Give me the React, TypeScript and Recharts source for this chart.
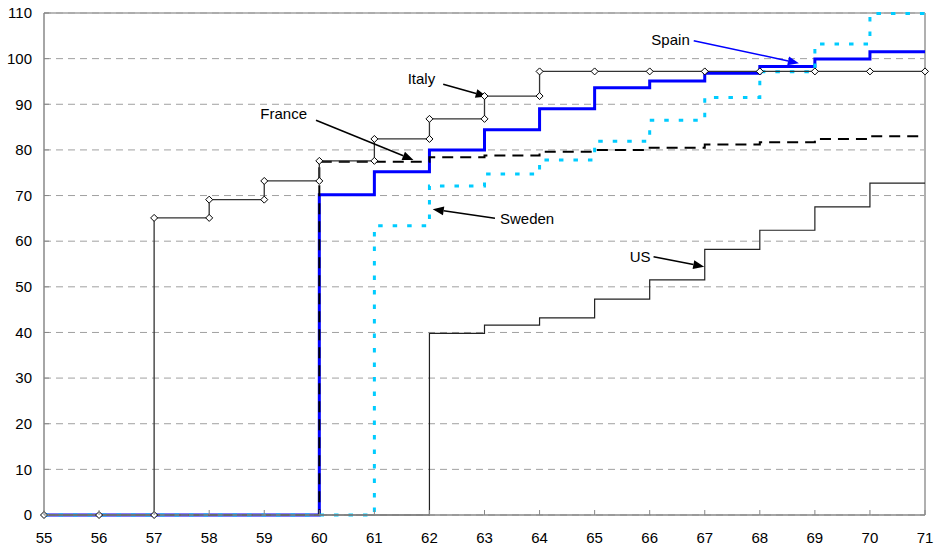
import { LineChart, Line, XAxis, YAxis, CartesianGrid, ReferenceLine } from 'recharts'

// ages on the x axis, one level per age (level holds until the next age)
const AGES = [55, 56, 57, 58, 59, 60, 61, 62, 63, 64, 65, 66, 67, 68, 69, 70, 71]
const Y_TICKS = [0, 10, 20, 30, 40, 50, 60, 70, 80, 90, 100, 110]

const ITALY = [0, 0, 65.1, 69.1, 73.2, 77.6, 82.4, 86.8, 91.8, 97.2, 97.2, 97.2, 97.2, 97.2, 97.2, 97.2, 97.2]
const SPAIN = [0, 0, 0, 0, 0, 70.2, 75.2, 80.0, 84.4, 89.0, 93.6, 95.1, 96.8, 98.3, 99.9, 101.5, 101.5]
const FRANCE = [0, 0, 0, 0, 0, 77.4, 77.4, 78.4, 78.8, 79.6, 80.0, 80.5, 81.2, 81.7, 82.4, 83.0, 83.0]
const SWEDEN = [0, 0, 0, 0, 0, 0, 63.4, 72.1, 74.7, 77.8, 81.9, 86.5, 91.5, 97.1, 103.2, 109.9, 109.9]
const US = [0, 0, 0, 0, 0, 0, 0, 39.8, 41.6, 43.2, 47.3, 51.5, 58.2, 62.4, 67.5, 72.7, 72.7]

// callouts: arrow from -> to, in data units
const ARROWS = [
  { label: 'Spain', from: [66.8, 103.9], to: [68.71, 99.0], color: '#0000ff', anchor: 'end', dx: -4, dy: -1 },
  { label: 'Italy', from: [62.25, 94.4], to: [63.04, 91.7], color: '#000', anchor: 'end', dx: -8, dy: -5 },
  { label: 'France', from: [59.94, 86.5], to: [61.71, 77.8], color: '#000', anchor: 'end', dx: -9, dy: -7 },
  { label: 'Sweden', from: [63.19, 65.0], to: [62.06, 67.0], color: '#000', anchor: 'start', dx: 5, dy: 0 },
  { label: 'US', from: [66.07, 56.6], to: [66.99, 54.4], color: '#000', anchor: 'end', dx: -3, dy: 0 },
]

const FONT = '"Liberation Sans", Arial, sans-serif'

function stepPoints(levels: number[]) {
  const pts: { age: number; v: number }[] = []
  levels.forEach((v, i) => {
    if (i > 0 && levels[i - 1] !== v) pts.push({ age: AGES[i], v: levels[i - 1] })
    pts.push({ age: AGES[i], v })
  })
  return pts
}

const Diamond = (props: any) => {
  const { cx, cy } = props
  if (cx == null || cy == null) return <g />
  const r = 3.5
  return (
    <path
      d={`M${cx},${cy - r} L${cx + r},${cy} L${cx},${cy + r} L${cx - r},${cy} Z`}
      fill="#fff"
      stroke="#000"
      strokeWidth={1}
    />
  )
}

const XTick = (props: any) => {
  const { x, y, payload } = props
  return (
    <g>
      <line x1={x} x2={x} y1={y} y2={y - 5} stroke="#888" />
      <text x={x} y={y + 27.5} textAnchor="middle" fontSize={15} fontFamily={FONT} fill="#000">
        {payload.value}
      </text>
    </g>
  )
}

const YTick = (props: any) => {
  const { x, y, payload } = props
  return (
    <g>
      <line x1={x} x2={x + 5} y1={y} y2={y} stroke="#888" />
      <text x={x - 12} y={y + 5.3} textAnchor="end" fontSize={15} fontFamily={FONT} fill="#000">
        {payload.value}
      </text>
    </g>
  )
}

function arrowShape(a: (typeof ARROWS)[number]) {
  return (p: any) => {
    const { x1, y1, x2, y2 } = p
    const ang = Math.atan2(y2 - y1, x2 - x1)
    const c = Math.cos(ang)
    const s = Math.sin(ang)
    const len = 11
    const hw = 4.5
    const bx = x2 - len * c
    const by = y2 - len * s
    const pts = `${x2},${y2} ${bx + hw * s},${by - hw * c} ${bx - hw * s},${by + hw * c}`
    return (
      <g>
        <line x1={x1} y1={y1} x2={bx} y2={by} stroke={a.color} strokeWidth={1.5} />
        <polygon points={pts} fill={a.color} />
        <text
          x={x1 + a.dx}
          y={y1 + a.dy + 5.3}
          textAnchor={a.anchor as any}
          fontSize={15}
          fontFamily={FONT}
          fill="#000"
        >
          {a.label}
        </text>
      </g>
    )
  }
}

export default function App() {
  return (
    <div style={{ position: 'absolute', left: 0, top: 0, width: 936, height: 549, background: '#fff' }}>
      <LineChart width={936} height={549} margin={{ top: 13, right: 11, left: 0, bottom: 0 }}>
        <CartesianGrid vertical={false} stroke="#a0a0a0" strokeDasharray="7 5" />
        <XAxis
          dataKey="age"
          type="number"
          domain={[55, 71]}
          ticks={AGES}
          interval={0}
          height={34}
          tickSize={0}
          tickMargin={0}
          tickLine={false}
          stroke="#888"
          strokeWidth={1.5}
          tick={XTick}
        />
        <YAxis
          type="number"
          domain={[0, 110]}
          ticks={Y_TICKS}
          interval={0}
          width={44}
          tickSize={0}
          tickMargin={0}
          tickLine={false}
          stroke="#888"
          strokeWidth={1.5}
          tick={YTick}
        />
        <ReferenceLine y={110} stroke="#a0a0a0" strokeWidth={1.5} />
        <ReferenceLine x={71} stroke="#b0b0b0" strokeWidth={2} />
        <Line data={stepPoints(SPAIN)} dataKey="v" type="linear" stroke="#0000ff" strokeWidth={3} dot={false} isAnimationActive={false} />
        <Line data={stepPoints(FRANCE)} dataKey="v" type="linear" stroke="#000" strokeWidth={2} strokeDasharray="11 7" dot={false} isAnimationActive={false} />
        <Line data={stepPoints(SWEDEN)} dataKey="v" type="linear" stroke="#00ccff" strokeWidth={3} strokeDasharray="4.5 10" dot={false} isAnimationActive={false} />
        <Line data={stepPoints(US)} dataKey="v" type="linear" stroke="#222" strokeWidth={1.2} dot={false} isAnimationActive={false} />
        <Line data={stepPoints(ITALY)} dataKey="v" type="linear" stroke="#333" strokeWidth={1.3} dot={<Diamond />} isAnimationActive={false} />
        {ARROWS.map((a) => (
          <ReferenceLine
            key={a.label}
            segment={[
              { x: a.from[0], y: a.from[1] },
              { x: a.to[0], y: a.to[1] },
            ]}
            shape={arrowShape(a)}
          />
        ))}
      </LineChart>
    </div>
  )
}
